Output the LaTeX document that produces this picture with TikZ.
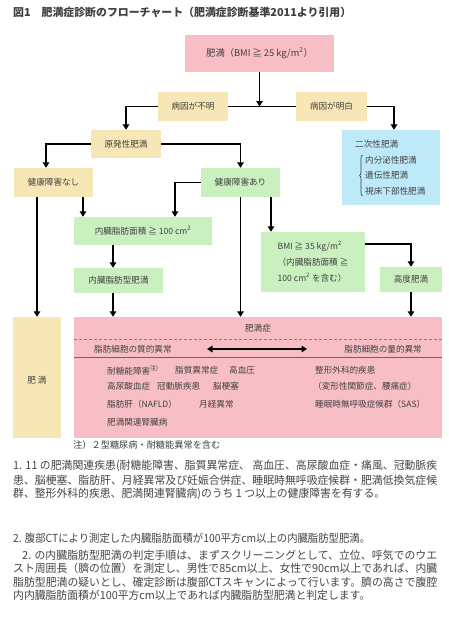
\documentclass[tikz,border=0pt]{standalone}
\usepackage{fontspec}
\usepackage{graphicx}
\setmainfont{Noto Sans CJK JP}
\usetikzlibrary{arrows.meta,decorations.pathreplacing}
\newcommand\fitline[2]{\resizebox{#1}{\height}{#2}}
\definecolor{pinkc}{RGB}{248,190,197}
\definecolor{tanc}{RGB}{247,230,182}
\definecolor{greenc}{RGB}{203,240,192}
\definecolor{bluec}{RGB}{190,233,248}
\definecolor{txt}{RGB}{64,64,64}
\definecolor{ptxt}{RGB}{70,70,70}
\tikzset{
  box/.style={inner sep=0pt, text=txt, font=\fontsize{8.6}{10}\selectfont},
  tanbox/.style={box, fill=tanc},
  pinkbox/.style={box, fill=pinkc},
  greenbox/.style={box, fill=greenc},
  bluebox/.style={box, fill=bluec},
  lbl/.style={inner sep=0pt, text=txt, font=\fontsize{8.6}{10}\selectfont},
  para/.style={inner sep=0pt, anchor=west, text=ptxt, font=\fontsize{11.1}{13}\selectfont},
  ln/.style={line width=1.7pt, black},
  arr/.style={ln, -{Triangle[length=5.5pt,width=6.5pt]}},
  dbl/.style={ln, {Triangle[length=5.5pt,width=6.5pt]}-{Triangle[length=5.5pt,width=6.5pt]}}
}
\begin{document}
\begin{tikzpicture}[x=1pt,y=-1pt]
\fill[white] (0,0) rectangle (448,640);
\useasboundingbox (0,0) rectangle (448,640);

% title
\node[inner sep=0pt, anchor=west, text=txt, font=\fontsize{10.9}{12}\selectfont\bfseries] (title) at (13,12.5)
  {図1　肥満症診断のフローチャート（肥満症診断基準2011より引用）};

% boxes
\node[pinkbox, minimum width=149pt, minimum height=37pt, font=\fontsize{9.3}{11}\selectfont] (top) at (259.5,53.5) {肥満（BMI ≧ 25 kg/m\textsuperscript{2}）};
\node[tanbox, minimum width=70pt, minimum height=29pt] (unknown) at (193,106.5) {病因が不明};
\node[tanbox, minimum width=71pt, minimum height=29pt] (known) at (331.5,106.5) {病因が明白};
\node[tanbox, minimum width=70pt, minimum height=28pt] (primary) at (126,144) {原発性肥満};
\node[bluebox, minimum width=98pt, minimum height=75pt] (secondary) at (391,167.5) {};
\node[tanbox, minimum width=79pt, minimum height=29pt] (none) at (53.5,182.5) {健康障害なし};
\node[greenbox, minimum width=79pt, minimum height=29pt] (yes) at (240.5,182.5) {健康障害あり};
\node[greenbox, minimum width=138pt, minimum height=28pt] (visc) at (143,231) {内臓脂肪面積 ≧ 100 cm\textsuperscript{2}};
\node[greenbox, minimum width=89pt, minimum height=25pt] (vtype) at (118.5,280.5) {内臓脂肪型肥満};
\node[greenbox, minimum width=104pt, minimum height=60pt, align=left,
      font=\fontsize{8.6}{16}\selectfont] (bmi) at (313,262)
  {BMI ≧ 35 kg/m\textsuperscript{2}\\（内臓脂肪面積 ≧\\100 cm\textsuperscript{2} を含む）};
\node[greenbox, minimum width=62pt, minimum height=25pt] (high) at (411,279.5) {高度肥満};
\node[pinkbox, minimum width=368pt, minimum height=121pt] (pink) at (258,377.5) {};
\node[tanbox, minimum width=48pt, minimum height=121pt] (fat) at (37,377.5) {};
\node[lbl] (fatl) at (37,380) {肥 満};

% secondary contents
\node[lbl, anchor=west] (sec0) at (355,144) {二次性肥満};
\node[lbl, anchor=west] (sec1) at (365,160) {内分泌性肥満};
\node[lbl, anchor=west] (sec2) at (365,175.5) {遺伝性肥満};
\node[lbl, anchor=west] (sec3) at (365,191) {視床下部性肥満};
\draw[txt, line width=0.7pt, decorate, decoration={brace, amplitude=3pt}] (362.5,196) -- (362.5,155);

% connectors
\draw[arr] (top.south) -- (top.south |- unknown.east);
\draw[ln] (unknown.east) -- (known.west);
\draw[arr] (unknown.west) -| (primary.north);
\coordinate (secin) at ([xshift=3pt]secondary.north);
\draw[arr] (known.east) -| (secin);
\coordinate (nonein) at ([xshift=-7.5pt]none.north);
\draw[arr] (primary.west) -| (nonein);
\draw[arr] (primary.east) -| (yes.north);
\coordinate (n1) at ([xshift=-16.5pt]none.south);
\draw[arr] (n1) -- (n1 |- fat.north);
\coordinate (n2) at ([xshift=29.5pt]none.south);
\draw[arr] (n2) -- (n2 |- visc.north);
\coordinate (viscin) at ([xshift=32pt]visc.north);
\draw[arr] (yes.west) -| (viscin);
\draw[arr] (yes.south) -- (yes.south |- pink.north);
\coordinate (y2) at ([xshift=30.5pt]yes.south);
\draw[arr] (y2) -- (y2 |- bmi.north);
\coordinate (v1) at ([xshift=-30pt]visc.south);
\draw[arr] (v1) -- (v1 |- vtype.north);
\coordinate (v2) at ([xshift=-5.5pt]vtype.south);
\draw[arr] (v2) -- (v2 |- pink.north);
\coordinate (b1) at ([yshift=18pt]bmi.east);
\draw[arr] (b1) -| (high.north);
\draw[arr] (high.south) -- (high.south |- pink.north);

% pink contents
\node[lbl] (sho) at (258,328) {肥満症};
\coordinate (dA) at (74,339);
\coordinate (dB) at (442,339);
\draw[gray, line width=0.7pt, dash pattern=on 3pt off 2pt] (dA) -- (dB);
\coordinate (sA) at (74,357.5);
\coordinate (sB) at (442,357.5);
\draw[black!60, line width=0.8pt] (sA) -- (sB);
\node[lbl, anchor=west] (qual) at (94,349) {脂肪細胞の質的異常};
\node[lbl, anchor=east] (quan) at (422,349) {脂肪細胞の量的異常};
\coordinate (dl) at (207,349);
\coordinate (dr) at (307,349);
\draw[dbl] (dl) -- (dr);

\node[lbl, anchor=west] (d1) at (107,370) {耐糖能障害\textsuperscript{注)}};
\node[lbl, anchor=west] (d2) at (175,370) {脂質異常症};
\node[lbl, anchor=west] (d3) at (229,370) {高血圧};
\node[lbl, anchor=west] (d4) at (107,386.5) {高尿酸血症};
\node[lbl, anchor=west] (d5) at (157,386.5) {冠動脈疾患};
\node[lbl, anchor=west] (d6) at (213,386.5) {脳梗塞};
\node[lbl, anchor=west] (d7) at (107,404) {脂肪肝（NAFLD）};
\node[lbl, anchor=west] (d8) at (199,404) {月経異常};
\node[lbl, anchor=west] (d9) at (107,422) {肥満関連腎臓病};
\node[lbl, anchor=west] (r1) at (315,370) {整形外科的疾患};
\node[lbl, anchor=west] (r2) at (313,386.5) {（変形性関節症、腰痛症）};
\node[lbl, anchor=west] (r3) at (315,404) {睡眠時無呼吸症候群（SAS）};

\node[lbl, anchor=west, font=\fontsize{9.2}{10}\selectfont] (note) at (73,444.5) {注）２型糖尿病・耐糖能異常を含む};

% paragraphs
\node[para] (p1) at (13,466) {\fitline{424pt}{1. 11 の肥満関連疾患(耐糖能障害、脂質異常症、 高血圧、高尿酸血症・痛風、冠動脈疾}};
\node[para] (p2) at (13,480) {\fitline{424pt}{患、脳梗塞、脂肪肝、月経異常及び妊娠合併症、睡眠時無呼吸症候群・肥満低換気症候}};
\node[para] (p3) at (13,494) {\fitline{372pt}{群、整形外科的疾患、肥満関連腎臓病)のうち 1 つ以上の健康障害を有する。}};
\node[para] (p4) at (13,538) {\fitline{357pt}{2. 腹部CTにより測定した内臓脂肪面積が100平方cm以上の内臓脂肪型肥満。}};
\node[para] (p5) at (22,555) {\fitline{415pt}{2. の内臓脂肪型肥満の判定手順は、まずスクリーニングとして、立位、呼気でのウエ}};
\node[para] (p6) at (13,568.5) {\fitline{424pt}{スト周囲長（臍の位置）を測定し、男性で85cm以上、女性で90cm以上であれば、内臓}};
\node[para] (p7) at (13,582) {\fitline{424pt}{脂肪型肥満の疑いとし、確定診断は腹部CTスキャンによって行います。臍の高さで腹腔}};
\node[para] (p8) at (13,595.5) {\fitline{357pt}{内内臓脂肪面積が100平方cm以上であれば内臓脂肪型肥満と判定します。}};
\end{tikzpicture}
\end{document}
